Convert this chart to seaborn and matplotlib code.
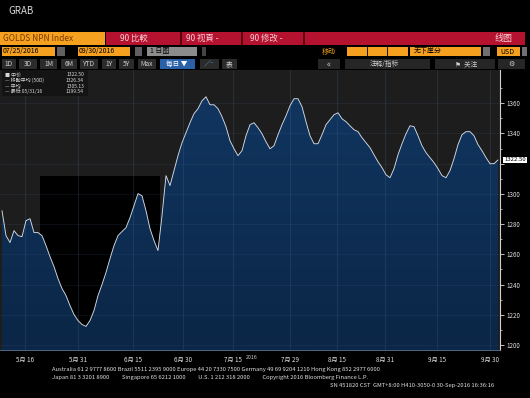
import numpy as np
import pandas as pd
import matplotlib
matplotlib.use("Agg")
import matplotlib.pyplot as plt
from matplotlib.patches import Rectangle
import seaborn as sns

# ---------------- data ----------------
prices = [1288.9, 1272.4, 1267.8, 1275.7, 1272.4, 1271.7, 1282.3, 1283.6, 1274.4, 1274.4,
          1272.4, 1265.8, 1258.5, 1251.9, 1244.0, 1237.4, 1232.7, 1226.1, 1220.2, 1216.2,
          1213.6, 1212.3, 1216.2, 1222.8, 1232.7, 1240.0, 1248.0, 1257.2, 1265.8, 1272.4,
          1275.1, 1277.7, 1284.3, 1292.2, 1300.2, 1298.8, 1288.9, 1277.0, 1269.1, 1262.5,
          1285.6, 1312.1, 1305.5, 1315.4, 1325.3, 1333.9, 1340.5, 1347.1, 1353.1, 1356.4,
          1361.6, 1364.3, 1359.0, 1359.0, 1356.4, 1351.1, 1344.5, 1335.2, 1329.9, 1325.3,
          1328.6, 1338.5, 1345.8, 1347.1, 1343.8, 1339.8, 1334.5, 1329.9, 1331.9, 1339.2,
          1345.8, 1351.7, 1358.3, 1363.0, 1363.0, 1357.7, 1347.8, 1338.5, 1333.2, 1333.2,
          1339.2, 1345.8, 1349.1, 1352.4, 1353.7, 1349.7, 1347.8, 1345.1, 1342.5, 1341.2,
          1337.2, 1333.9, 1330.6, 1325.9, 1321.3, 1317.4, 1312.7, 1310.7, 1316.7, 1325.9,
          1333.2, 1339.8, 1345.1, 1344.5, 1338.5, 1331.9, 1327.3, 1324.0, 1320.7, 1316.7,
          1312.1, 1310.7, 1315.4, 1323.3, 1332.6, 1339.2, 1341.2, 1341.2, 1338.5, 1332.6,
          1328.6, 1324.0, 1320.0, 1320.0, 1322.5]
x_tick_pos = [5.75, 19, 32.75, 45.25, 57.75, 72, 83.75, 95.75, 108.75, 122]
x_tick_labels = ["5月 16", "5月 31", "6月 15", "6月 30", "7月 15",
                 "7月 29", "8月 15", "8月 31", "9月 15", "9月 30"]
y_ticks = [1200, 1220, 1240, 1260, 1280, 1300, 1320, 1340, 1360]
last_label = "1322.50"
legend_rows = [("中价", "1322.50"), ("移動平均 (50D)", "1326.34"),
               ("平均", "1305.13"), ("最低 05/31/16", "1199.54")]

df = pd.DataFrame({"i": np.arange(len(prices)), "price": prices})

# ---------------- style ----------------
sns.set_theme(style="dark")
plt.rcParams["font.family"] = ["Noto Sans CJK SC", "DejaVu Sans"]
plt.rcParams["axes.unicode_minus"] = False

W, H = 530, 398
fig = plt.figure(figsize=(W / 100, H / 100), dpi=100, facecolor="black")

def fx(x):
    return x / W

def fy(y):
    return 1 - y / H

def box(x0, y0, x1, y1, color, z=1):
    fig.add_artist(Rectangle((fx(x0), fy(y1)), (x1 - x0) / W, (y1 - y0) / H,
                             transform=fig.transFigure, facecolor=color,
                             edgecolor="none", zorder=z))

def txt(x, y, s, size=5, color="white", ha="left", **kw):
    fig.text(fx(x), fy(y), s, fontsize=size, color=color, ha=ha, va="center", **kw)

# ---------------- header ----------------
txt(8, 11, "GRAB", size=7, color="#d8d8d8")

# row 1
box(0, 32, 105, 45, "#f5a01e")
txt(3, 38.5, "GOLDS NPN Index", size=6, color="#7a3c00")
box(106, 32, 525, 45, "#b5122f")
for xs in (180, 241, 303):
    box(xs, 32, xs + 1.5, 45, "#5a0010", z=2)
txt(120, 38.5, "90 比較", size=6, color="#f4d0d6")
txt(186, 38.5, "90 视頁 -", size=6, color="#f4d0d6")
txt(250, 38.5, "90 修改 -", size=6, color="#f4d0d6")
txt(513, 38.5, "线图", size=6.5, color="#f4d0d6", ha="right")

# row 2
box(2, 47, 55, 56, "#f5a01e")
txt(3, 51.5, "07/25/2016", size=5, color="black")
box(57, 47, 65, 56, "#606060")
box(78, 47, 130, 56, "#f5a01e")
txt(79, 51.5, "09/30/2016", size=5, color="black")
box(135, 47, 142, 56, "#606060")
box(147, 47, 197, 56, "#8c8c8c")
txt(150, 51.5, "1 日图", size=5, color="black")
box(202, 47, 206, 56, "#444444")
txt(322, 51.5, "移动", size=5, color="#f5a01e")
box(347, 47, 408, 56, "#f5a01e")
for xs in (367, 387):
    box(xs, 47, xs + 1, 56, "#1a1a1a", z=2)
box(410, 47, 481, 56, "#f5a01e")
txt(414, 51.5, "无下崖分", size=5, color="black")
box(483, 47, 490, 56, "#707070")
box(497, 47, 520, 56, "#f5a01e")
txt(500, 51.5, "USD", size=5, color="black")
box(522, 47, 527, 56, "#707070")

# row 3
btns = [(2, 16, "1D"), (19, 37, "3D"), (40, 57, "1M"), (61, 77, "6M"),
        (80, 98, "YTD"), (102, 116, "1Y"), (119, 134, "5Y"), (138, 156, "Max")]
for x0, x1, s in btns:
    box(x0, 59, x1, 69, "#2b2b2b")
    txt((x0 + x1) / 2, 64, s, size=4.8, color="#d0d0d0", ha="center")
box(160, 59, 195, 69, "#2a60a8")
txt(177, 64, "每日 ▼", size=4.8, color="white", ha="center")
box(200, 59, 219, 69, "#2b2b2b")
txt(209.5, 64, "∕⁻", size=5, color="#6aaaf0", ha="center")
box(222, 59, 237, 69, "#2b2b2b")
txt(229.5, 64, "表", size=4.8, color="#d0d0d0", ha="center")
for x0, x1 in ((318, 340), (345, 430), (435, 495), (498, 525)):
    box(x0, 59, x1, 69, "#262626")
txt(329, 64, "«", size=6, color="#d0d0d0", ha="center")
txt(370, 64, "注释/指标", size=4.8, color="#d0d0d0")
txt(455, 64, "⚑  关注", size=4.8, color="#d0d0d0")
txt(511, 64, "⚙", size=5, color="#d0d0d0", ha="center", family=["DejaVu Sans"])

# ---------------- main chart ----------------
ax = fig.add_axes([fx(0), fy(350), fx(500), (350 - 70) / H])
ax.set_facecolor("#1d1d1d")
x_lo, x_hi = -0.5, len(prices) - 0.5
y_lo, y_hi = 1196.7, 1382.0
ax.set_xlim(x_lo, x_hi)
ax.set_ylim(y_lo, y_hi)

# darker area of the background
ax.add_patch(Rectangle((9.5, y_lo), 30, 1312 - y_lo, facecolor="black",
                       edgecolor="none", zorder=0))

# gradient fill under the curve
grad = np.linspace(0, 1, 256).reshape(-1, 1)
cmap = matplotlib.colors.LinearSegmentedColormap.from_list("bb", ["#0b2646", "#113763"])
im = ax.imshow(grad, extent=[x_lo, x_hi, y_lo, y_hi], origin="lower",
               aspect="auto", cmap=cmap, zorder=1)
poly = ax.fill_between(df["i"], df["price"], y_lo, color="none", zorder=1)
clip = poly.get_paths()[0]
im.set_clip_path(clip, ax.transData)

# grid
for p in x_tick_pos:
    ax.axvline(p, color="#4a6a90", lw=0.5, alpha=0.35, zorder=2)
for v in y_ticks:
    ax.axhline(v, color="#4a6a90", lw=0.4, alpha=0.25, zorder=2)

sns.lineplot(data=df, x="i", y="price", ax=ax, color="#d4dae2", lw=0.65, zorder=3)

ax.set_xlabel("")
ax.set_ylabel("")
ax.yaxis.tick_right()
ax.set_yticks(y_ticks)
ax.set_yticklabels([("" if v == 1320 else str(v)) for v in y_ticks])
ax.set_yticks(np.arange(1210, 1380, 20), minor=True)
ax.tick_params(axis="y", which="major", colors="#e0e0e0", labelsize=4.5,
               length=3, width=0.6, direction="out", pad=1.5)
ax.tick_params(axis="y", which="minor", colors="#e0e0e0", length=1.5, width=0.5)
ax.set_xticks(x_tick_pos)
ax.set_xticklabels(x_tick_labels)
ax.tick_params(axis="x", colors="#e0e0e0", labelsize=4.5, length=2, width=0.5, pad=2)
for s in ("top", "left"):
    ax.spines[s].set_visible(False)
ax.spines["right"].set_color("#d0d0d0")
ax.spines["right"].set_linewidth(0.8)
ax.spines["bottom"].set_color("#5a7aa0")
ax.spines["bottom"].set_linewidth(0.6)
ax.grid(False)

# last value tag
ax.annotate(last_label, xy=(1, prices[-1]), xycoords=("axes fraction", "data"),
            xytext=(3, 0), textcoords="offset points", fontsize=4.3, color="black",
            va="center", ha="left", annotation_clip=False,
            bbox=dict(boxstyle="square,pad=0.15", fc="white", ec="none"))

# legend box
box(2, 70, 88, 96, "#141414", z=5)
for k, (name, val) in enumerate(legend_rows):
    yy = 75 + k * 5.5
    mark = "■" if k == 0 else "—"
    txt(5, yy, mark + " " + name, size=3.6, color="#d8d8d8", zorder=6)
    txt(84, yy, val, size=3.6, color="#d8d8d8", ha="right", zorder=6)

# year label
txt(252, 357.5, "2016", size=3.8, color="#d0d0d0", ha="center")

# ---------------- footer ----------------
txt(52, 369.5, "Australia 61 2 9777 8600 Brazil 5511 2395 9000 Europe 44 20 7330 7500 Germany 49 69 9204 1210 Hong Kong 852 2977 6000",
    size=4.2, color="#e0e0e0")
txt(52, 377.5, "Japan 81 3 3201 8900          Singapore 65 6212 1000          U.S. 1 212 318 2000          Copyright 2016 Bloomberg Finance L.P.",
    size=4.2, color="#e0e0e0")
txt(330, 385.5, "SN 451820 CST  GMT+8:00 H410-3050-0 30-Sep-2016 16:36:16",
    size=4.2, color="#e0e0e0")

fig.savefig("out.png", dpi=100, facecolor="black")
